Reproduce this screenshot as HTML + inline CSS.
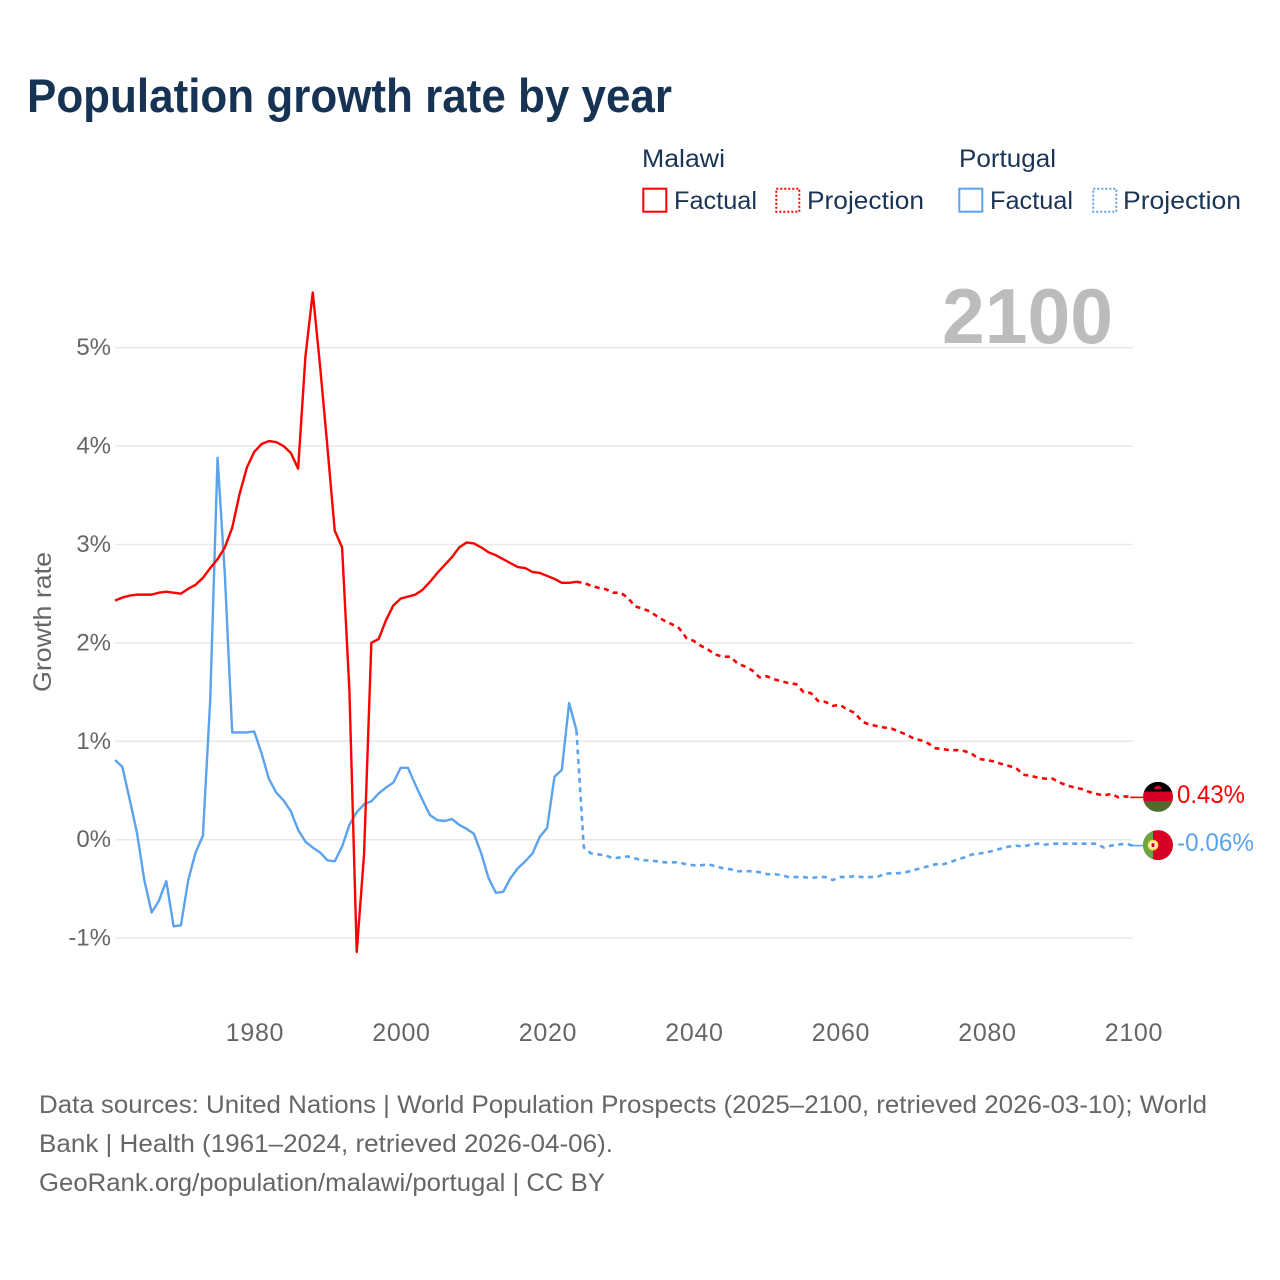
<!DOCTYPE html>
<html lang="en">
<head>
<meta charset="utf-8">
<title>Population growth rate by year</title>
<style>
html,body{margin:0;padding:0;background:#fff;}
svg{display:block;font-family:"Liberation Sans",sans-serif;}
.tick{font-size:25px;fill:#666;}
.ytick{font-size:24px;fill:#666;}
.legend{font-size:25px;fill:#1a3455;}
.foot{font-size:25px;fill:#666;}
</style>
</head>
<body>
<svg id="chart" xmlns="http://www.w3.org/2000/svg" width="1280" height="1280" viewBox="0 0 1280 1280">
  <rect x="0" y="0" width="1280" height="1280" fill="#fff"/>
  <text x="27" y="112" font-size="47" font-weight="700" fill="#173354" textLength="645" lengthAdjust="spacingAndGlyphs">Population growth rate by year</text>

  <g>
    <text class="legend" x="642" y="167" textLength="83" lengthAdjust="spacingAndGlyphs">Malawi</text>
    <rect x="643.3" y="188.7" width="23" height="23" fill="none" stroke="#ff0000" stroke-width="2"/>
    <text class="legend" x="674" y="209" textLength="83" lengthAdjust="spacingAndGlyphs">Factual</text>
    <rect x="776.3" y="188.7" width="23" height="23" fill="none" stroke="#ff0000" stroke-width="2" stroke-dasharray="2 2"/>
    <text class="legend" x="807" y="209" textLength="117" lengthAdjust="spacingAndGlyphs">Projection</text>
    <text class="legend" x="959" y="167" textLength="97" lengthAdjust="spacingAndGlyphs">Portugal</text>
    <rect x="959.3" y="188.7" width="23" height="23" fill="none" stroke="#5ba3ec" stroke-width="2"/>
    <text class="legend" x="990" y="209" textLength="83" lengthAdjust="spacingAndGlyphs">Factual</text>
    <rect x="1093.3" y="188.7" width="23" height="23" fill="none" stroke="#5ba3ec" stroke-width="2" stroke-dasharray="2 2"/>
    <text class="legend" x="1123" y="209" textLength="118" lengthAdjust="spacingAndGlyphs">Projection</text>
  </g>

  <text x="-622" y="51" transform="rotate(-90)" class="tick" text-anchor="middle" textLength="140" lengthAdjust="spacingAndGlyphs">Growth rate</text>

  <g id="grid"></g>
  <g id="yticks"></g>
  <g id="xticks"></g>

  <text x="942" y="343" font-size="78" font-weight="700" fill="#bcbcbc" textLength="171" lengthAdjust="spacingAndGlyphs">2100</text>

  <g id="series"></g>

  <g id="flag-malawi">
    <clipPath id="clip-mw"><circle cx="0" cy="0" r="15"/></clipPath>
    <g clip-path="url(#clip-mw)">
      <rect x="-15" y="-15" width="30" height="10" fill="#000"/>
      <rect x="-15" y="-5.2" width="30" height="10.2" fill="#d80027"/>
      <rect x="-15" y="5" width="30" height="10" fill="#496e2d"/>
      <path d="M-5 -7 A5 4.5 0 0 1 5 -7 Z" fill="#d80027" transform="translate(0,-2) scale(0.8)"/>
    </g>
  </g>
  <g id="flag-portugal">
    <clipPath id="clip-pt"><circle cx="0" cy="0" r="15"/></clipPath>
    <g clip-path="url(#clip-pt)">
      <rect x="-15" y="-15" width="30" height="30" fill="#d80027"/>
      <rect x="-15" y="-15" width="10" height="30" fill="#6da544"/>
      <circle cx="-5" cy="0" r="4.5" fill="#fff" stroke="#ffda44" stroke-width="1.8"/>
      <rect x="-6.5" y="-2" width="3" height="4" fill="#d80027"/>
    </g>
  </g>
  <g id="end-labels"></g>

  <g>
    <text class="foot" x="39" y="1113" textLength="1168" lengthAdjust="spacingAndGlyphs">Data sources: United Nations | World Population Prospects (2025–2100, retrieved 2026-03-10); World</text>
    <text class="foot" x="39" y="1152" textLength="574" lengthAdjust="spacingAndGlyphs">Bank | Health (1961–2024, retrieved 2026-04-06).</text>
    <text class="foot" x="39" y="1191" textLength="566" lengthAdjust="spacingAndGlyphs">GeoRank.org/population/malawi/portugal | CC BY</text>
  </g>
</svg>
<script>
var factualStartYear = 1961;
var projectionStartYear = 2024;
var xTickYears = [1980, 2000, 2020, 2040, 2060, 2080, 2100];
var yTickValues = [-1, 0, 1, 2, 3, 4, 5];
var yTickLabels = ["-1%", "0%", "1%", "2%", "3%", "4%", "5%"];

var malawiFactual = [
  2.43,2.46,2.48,2.49,2.49,2.49,2.51,2.52,2.51,2.50,
  2.55,2.59,2.66,2.76,2.85,2.97,3.17,3.51,3.78,3.94,
  4.02,4.05,4.04,4.00,3.93,3.77,4.91,5.56,4.81,3.99,
  3.14,2.97,1.52,-1.14,-0.15,2.00,2.04,2.23,2.38,2.45,
  2.47,2.49,2.54,2.62,2.71,2.79,2.87,2.97,3.02,3.01,
  2.97,2.92,2.89,2.85,2.81,2.77,2.76,2.72,2.71,2.68,
  2.65,2.61,2.61,2.62
];
var malawiProjection = [
  2.62,2.61,2.58,2.56,2.545,2.51,2.51,2.46,2.37,2.35,
  2.32,2.27,2.225,2.19,2.15,2.05,2.02,1.97,1.93,1.88,
  1.86,1.86,1.79,1.76,1.72,1.65,1.66,1.63,1.61,1.59,
  1.58,1.50,1.49,1.41,1.40,1.36,1.37,1.32,1.29,1.20,
  1.17,1.155,1.14,1.13,1.10,1.07,1.03,1.01,0.98,0.93,
  0.92,0.91,0.91,0.90,0.87,0.82,0.81,0.795,0.77,0.75,
  0.73,0.66,0.65,0.63,0.62,0.62,0.58,0.55,0.53,0.515,
  0.485,0.465,0.45,0.465,0.43,0.44,0.43
];
var portugalFactual = [
  0.81,0.74,0.41,0.07,-0.41,-0.74,-0.62,-0.42,-0.88,-0.87,
  -0.41,-0.13,0.04,1.42,3.88,2.69,1.09,1.09,1.09,1.10,
  0.88,0.62,0.48,0.40,0.29,0.10,-0.02,-0.08,-0.13,-0.21,
  -0.22,-0.07,0.15,0.28,0.36,0.39,0.47,0.53,0.58,0.73,
  0.73,0.56,0.40,0.25,0.20,0.19,0.21,0.15,0.11,0.06,
  -0.14,-0.39,-0.54,-0.53,-0.39,-0.29,-0.22,-0.14,0.03,0.12,
  0.64,0.71,1.39,1.11
];
var portugalProjection = [
  1.11,-0.08,-0.14,-0.15,-0.16,-0.19,-0.18,-0.17,-0.19,-0.21,
  -0.21,-0.22,-0.23,-0.23,-0.23,-0.25,-0.26,-0.26,-0.25,-0.27,
  -0.29,-0.30,-0.32,-0.32,-0.32,-0.33,-0.35,-0.35,-0.36,-0.38,
  -0.38,-0.38,-0.39,-0.38,-0.38,-0.41,-0.38,-0.38,-0.37,-0.38,
  -0.38,-0.38,-0.35,-0.34,-0.34,-0.33,-0.31,-0.29,-0.27,-0.25,
  -0.25,-0.23,-0.20,-0.18,-0.15,-0.14,-0.13,-0.11,-0.09,-0.07,
  -0.06,-0.07,-0.05,-0.04,-0.05,-0.04,-0.04,-0.04,-0.04,-0.04,
  -0.04,-0.04,-0.08,-0.06,-0.05,-0.04,-0.06
];
var malawiEndLabel = "0.43%";
var portugalEndLabel = "-0.06%";

var SVGNS = "http://www.w3.org/2000/svg";
var RED = "#ff0000";
var BLUE = "#5ba3ec";

function xScale(year) {
  return 115 + (year - 1961) * 7.3247;
}
function yScale(value) {
  return 839.7 - value * 98.42;
}
function make(tag, parent) {
  var el = document.createElementNS(SVGNS, tag);
  parent.appendChild(el);
  return el;
}
function linePath(values, startYear) {
  var d = "";
  for (var i = 0; i < values.length; i++) {
    d += (i === 0 ? "M" : "L") + xScale(startYear + i).toFixed(2) + " " + yScale(values[i]).toFixed(2);
  }
  return d;
}

var gridGroup = document.getElementById("grid");
var yTickGroup = document.getElementById("yticks");
yTickValues.forEach(function (v, i) {
  var ln = make("line", gridGroup);
  ln.setAttribute("x1", xScale(1961));
  ln.setAttribute("x2", xScale(2100));
  ln.setAttribute("y1", yScale(v));
  ln.setAttribute("y2", yScale(v));
  ln.setAttribute("stroke", "#e9e9e9");
  ln.setAttribute("stroke-width", "1.5");
  
  
  var t = make("text", yTickGroup);
  t.setAttribute("class", "ytick");
  t.setAttribute("x", 111);
  t.setAttribute("y", yScale(v) + 7.5);
  t.setAttribute("text-anchor", "end");
  t.textContent = yTickLabels[i];
  
  
});

var xTickGroup = document.getElementById("xticks");
xTickYears.forEach(function (yr) {
  var t = make("text", xTickGroup);
  t.setAttribute("class", "tick");
  t.setAttribute("x", xScale(yr) + 0.8);
  t.setAttribute("y", 1041);
  t.setAttribute("text-anchor", "middle");
  t.setAttribute("letter-spacing", "0.7");
  t.textContent = String(yr);
  
  
});

var seriesGroup = document.getElementById("series");
function drawLine(values, startYear, color, dashed, name) {
  var p = make("path", seriesGroup);
  p.setAttribute("d", linePath(values, startYear));
  p.setAttribute("fill", "none");
  p.setAttribute("stroke", color);
  p.setAttribute("stroke-width", dashed ? "2.6" : "2.4");
  p.setAttribute("stroke-linejoin", "round");
  if (dashed) {
    p.setAttribute("stroke-dasharray", "5 4.5");
  }
  
  
}
drawLine(portugalFactual, factualStartYear, BLUE, false, "portugal-factual-line");
drawLine(portugalProjection, projectionStartYear, BLUE, true, "portugal-projection-line");
drawLine(malawiFactual, factualStartYear, RED, false, "malawi-factual-line");
drawLine(malawiProjection, projectionStartYear, RED, true, "malawi-projection-line");

function drawEnd(values, color, flagId, labelText, labelName, connectorName, labelWidth) {
  var last = values[values.length - 1];
  var py = yScale(last);
  var c = make("line", seriesGroup);
  c.setAttribute("x1", xScale(2100) - 3);
  c.setAttribute("x2", 1144);
  c.setAttribute("y1", py);
  c.setAttribute("y2", py);
  c.setAttribute("stroke", color);
  c.setAttribute("stroke-width", "1.6");
  
  
  document.getElementById(flagId).setAttribute("transform", "translate(1158 " + (py - 0.5) + ")");
  var t = make("text", document.getElementById("end-labels"));
  t.setAttribute("x", 1177);
  t.setAttribute("y", py + 5.5);
  t.setAttribute("font-size", "25");
  t.setAttribute("fill", color);
  t.setAttribute("textLength", labelWidth);
  t.setAttribute("lengthAdjust", "spacingAndGlyphs");
  t.textContent = labelText;
  
  
}
drawEnd(malawiProjection, RED, "flag-malawi", malawiEndLabel, "malawi-end-value", "malawi-end-connector", 68);
drawEnd(portugalProjection, BLUE, "flag-portugal", portugalEndLabel, "portugal-end-value", "portugal-end-connector", 77);
</script>
</body>
</html>
